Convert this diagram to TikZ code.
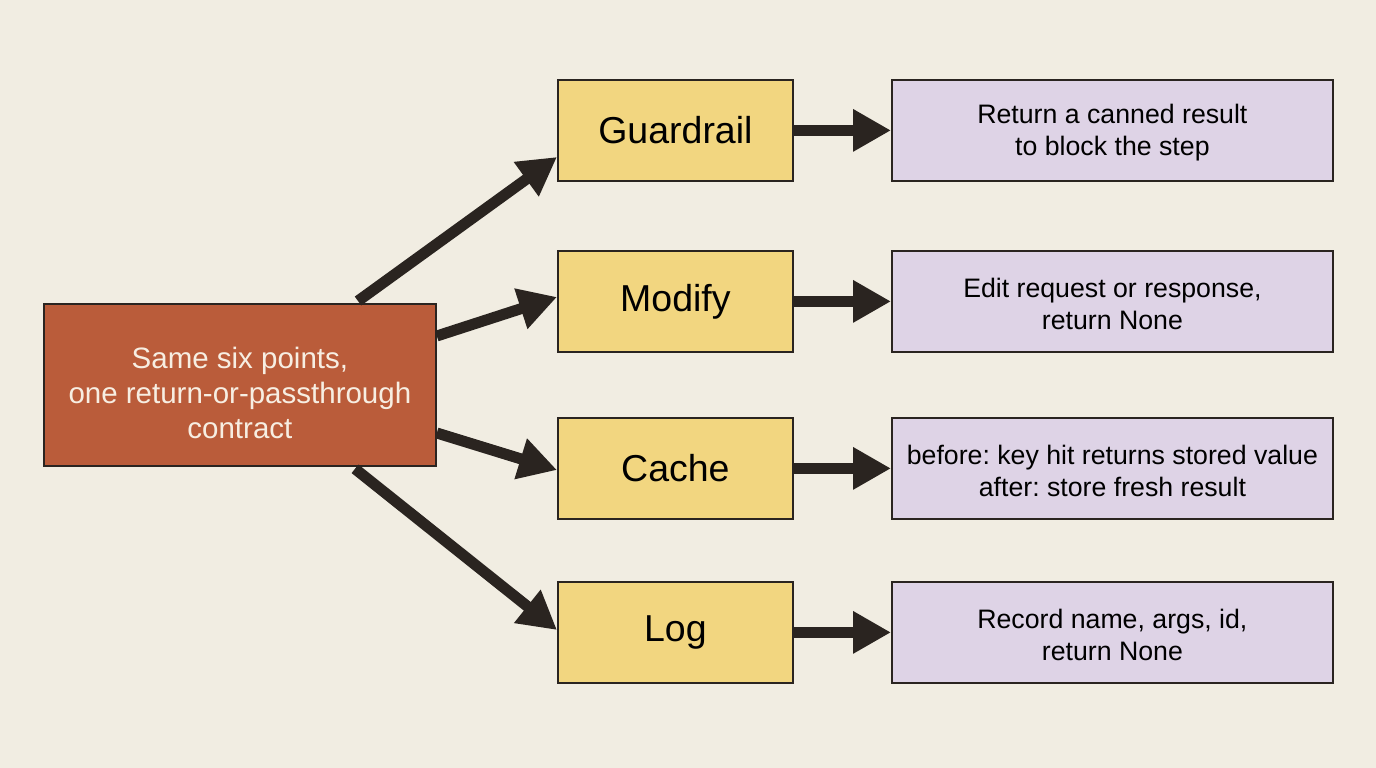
\documentclass[tikz,border=0pt]{standalone}
\usepackage{fontspec}
\setmainfont{Liberation Sans}
\usetikzlibrary{arrows.meta}
\frenchspacing
\definecolor{bg}{HTML}{F1EDE2}
\definecolor{src}{HTML}{BA5C3A}
\definecolor{srctext}{HTML}{F7EEE2}
\definecolor{yel}{HTML}{F2D680}
\definecolor{pur}{HTML}{DED3E6}
\definecolor{ink}{HTML}{2A2420}
\tikzset{
  x=1pt, y=-1pt,
  box/.style={draw=ink, line width=1.8pt, inner sep=0pt, anchor=north west},
  srcbox/.style={box, fill=src, text=srctext, align=center, font=\fontsize{29.5}{35}\selectfont},
  hookbox/.style={box, fill=yel, text=black, font=\fontsize{37.5}{40}\selectfont},
  descbox/.style={box, fill=pur, text=black, align=center, font=\fontsize{26.7}{32}\selectfont},
  conn/.style={draw=ink, line width=11pt, -{Triangle[length=38pt, width=40pt]}},
}
\begin{document}
\begin{tikzpicture}
\fill[bg] (0,0) rectangle (1376,768);
\useasboundingbox (0,0) rectangle (1376,768);
\node[srcbox, minimum width=392pt, minimum height=162pt] (src) at (43,303) {\rule{0pt}{38pt}Same six points,\\one return-or-passthrough\\contract};
\node[hookbox, minimum width=235pt, minimum height=101pt] (g) at (557,79) {Guardrail};
\node[hookbox, minimum width=235pt, minimum height=101pt] (m) at (557,250) {Modify};
\node[hookbox, minimum width=235pt, minimum height=101pt] (c) at (557,417) {Cache};
\node[hookbox, minimum width=235pt, minimum height=101pt] (l) at (557,581) {Log};
\node[descbox, minimum width=441pt, minimum height=101pt] (gd) at (891,79) {\rule{0pt}{24pt}Return a canned result\\to block the step};
\node[descbox, minimum width=441pt, minimum height=101pt] (md) at (891,250) {\rule{0pt}{24pt}Edit request or response,\\return None};
\node[descbox, minimum width=441pt, minimum height=101pt] (cd) at (891,417) {\rule{0pt}{24pt}before: key hit returns stored value\\after: store fresh result};
\node[descbox, minimum width=441pt, minimum height=101pt] (ld) at (891,581) {\rule{0pt}{24pt}Record name, args, id,\\return None};
\path (src.north west) ++(315,-2) coordinate (s1);
\path (src.south west) ++(312,2) coordinate (s4);
\path (src.north east) ++(0,33) coordinate (s2);
\path (src.north east) ++(0,130) coordinate (s3);
\path (g.north west) ++(0,78) coordinate (t1);
\path (m.north west) ++(0,47) coordinate (t2);
\path (c.north west) ++(0,53) coordinate (t3);
\path (l.north west) ++(0,49) coordinate (t4);
\draw[conn] (s1) -- (t1);
\draw[conn] (s2) -- (t2);
\draw[conn] (s3) -- (t3);
\draw[conn] (s4) -- (t4);
\draw[conn] (g.east) -- (gd.west);
\draw[conn] (m.east) -- (md.west);
\draw[conn] (c.east) -- (cd.west);
\draw[conn] (l.east) -- (ld.west);
\end{tikzpicture}
\end{document}
